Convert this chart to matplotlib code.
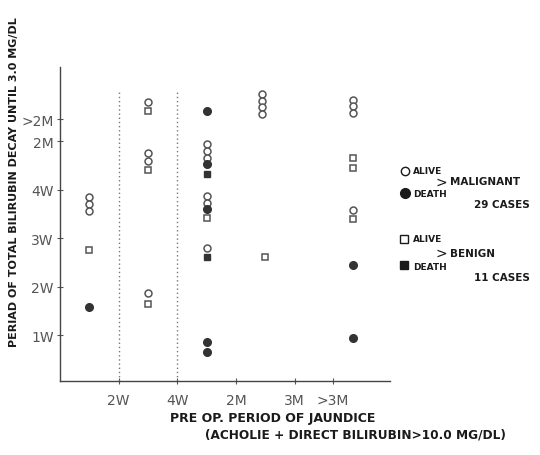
import matplotlib
matplotlib.use("Agg")
import matplotlib.pyplot as plt

# x: pre-op period column (1 = 2W, 2 = 4W, 3 = 2M, 4 = 3M, 4.65 = >3M)
# y: decay period (1 = 1W ... 4 = 4W, 5 = 2M, 5.45 = >2M)
x_ticks = [1, 2, 3, 4, 4.65]
x_labels = ["2W", "4W", "2M", "3M", ">3M"]
y_ticks = [1, 2, 3, 4, 5, 5.45]
y_labels = ["1W", "2W", "3W", "4W", "2M", ">2M"]

# malignant, alive (open circles)
mal_alive_x = [0.5] * 3 + [1.5] * 4 + [2.5] * 6 + [3.45] * 4 + [5.0] * 4
mal_alive_y = [3.85, 3.70, 3.56,
               5.80, 4.75, 4.59, 1.87,
               4.94, 4.79, 4.65, 3.87, 3.72, 2.79,
               5.97, 5.82, 5.70, 5.56,
               5.85, 5.72, 5.58, 3.58]
# malignant, death (filled circles)
mal_death_x = [0.5] + [2.5] * 5 + [5.0] * 2
mal_death_y = [1.58, 5.62, 4.53, 3.60, 0.86, 0.65, 2.44, 0.94]
# benign, alive (open squares)
ben_alive_x = [0.5] + [1.5] * 3 + [2.5] + [3.5] + [5.0] * 3
ben_alive_y = [2.75, 5.62, 4.40, 1.64, 3.41, 2.61, 4.65, 4.44, 3.39]
# benign, death (filled squares)
ben_death_x = [2.5, 2.5]
ben_death_y = [4.32, 2.61]

ink = "#1a1a1a"
grey = "#555555"

fig = plt.figure(figsize=(5.4, 4.56), dpi=100)
ax = fig.add_axes([0.111, 0.162, 0.611, 0.689])

ax.plot(mal_alive_x, mal_alive_y, "o", ms=5, mfc="white", mec=grey, mew=1.1, ls="none")
ax.plot(mal_death_x, mal_death_y, "o", ms=5.5, mfc="#333333", mec="#333333", ls="none")
ax.plot(ben_alive_x, ben_alive_y, "s", ms=5, mfc="white", mec=grey, mew=1.1, ls="none")
ax.plot(ben_death_x, ben_death_y, "s", ms=5, mfc="#333333", mec="#333333", ls="none")

# dotted separators at 2W and 4W
for xv in [1, 2]:
    ax.plot([xv, xv], [0.05, 6.03], ls=(0, (1, 2)), color="#777777", lw=1)

ax.set_xlim(0, 5.62)
ax.set_ylim(0.05, 6.53)
ax.set_xticks(x_ticks)
ax.set_xticklabels(x_labels)
ax.set_yticks(y_ticks)
ax.set_yticklabels(y_labels)
ax.tick_params(direction="inout", length=5, width=0.8, colors=grey,
               labelsize=10, pad=6)
ax.tick_params(axis="y", pad=2)

for s in ["top", "right"]:
    ax.spines[s].set_visible(False)
for s in ["left", "bottom"]:
    ax.spines[s].set_color("#444444")
    ax.spines[s].set_linewidth(1)

# axis titles
fig.text(0.026, 0.6, "PERIAD OF TOTAL BILIRUBIN DECAY UNTIL 3.0 MG/DL",
         rotation=90, ha="center", va="center", fontsize=8, fontweight="bold",
         color=ink)
fig.text(0.315, 0.083, "PRE OP. PERIOD OF JAUNDICE", ha="left", va="center",
         fontsize=9, fontweight="bold", color=ink)
fig.text(0.38, 0.046, "(ACHOLIE + DIRECT BILIRUBIN>10.0 MG/DL)", ha="left",
         va="center", fontsize=8.7, fontweight="bold", color=ink)

# hand drawn legend
tf = fig.transFigure
W, H = 540.0, 456.0
def fx(px):
    return px / W
def fy(py):
    return 1 - py / H

fig.lines.append(plt.Line2D([fx(405)], [fy(172)], marker="o", ms=6, mfc="white",
                            mec=ink, mew=1, transform=tf))
fig.lines.append(plt.Line2D([fx(405)], [fy(194)], marker="o", ms=7, mfc=ink,
                            mec=ink, transform=tf))
fig.lines.append(plt.Line2D([fx(404)], [fy(240)], marker="s", ms=6, mfc="white",
                            mec=ink, mew=1, transform=tf))
fig.lines.append(plt.Line2D([fx(404)], [fy(266)], marker="s", ms=6, mfc=ink,
                            mec=ink, transform=tf))

kw = dict(fontsize=6.5, fontweight="bold", color=ink, va="center", ha="left")
kw2 = dict(fontsize=7.5, fontweight="bold", color=ink, va="center", ha="left")
fig.text(fx(413), fy(171), "ALIVE", **kw)
fig.text(fx(413), fy(195), "DEATH", **kw)
fig.text(fx(413), fy(240), "ALIVE", **kw)
fig.text(fx(413), fy(267), "DEATH", **kw)
fig.text(fx(441), fy(183), ">", fontsize=10, color=ink, va="center", ha="center")
fig.text(fx(441), fy(254), ">", fontsize=10, color=ink, va="center", ha="center")
fig.text(fx(450), fy(182), "MALIGNANT", **kw2)
fig.text(fx(474), fy(205), "29 CASES", **kw2)
fig.text(fx(450), fy(254), "BENIGN", **kw2)
fig.text(fx(474), fy(278), "11 CASES", **kw2)

fig.savefig("out.png", dpi=100)
